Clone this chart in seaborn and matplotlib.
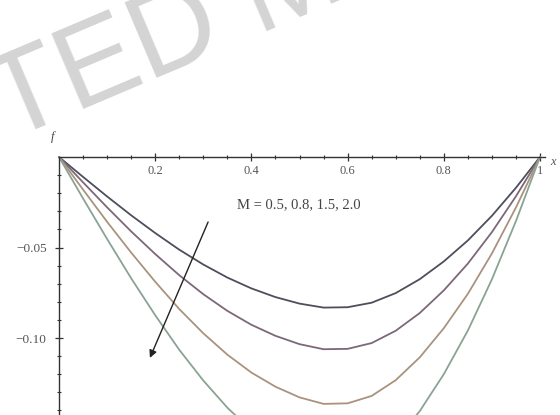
import matplotlib
matplotlib.use("Agg")
import matplotlib.pyplot as plt
import seaborn as sns
import pandas as pd

# Profiles across the channel for increasing Hartmann number M
x_vals = [0.00, 0.05, 0.10, 0.15, 0.20, 0.25, 0.30, 0.35, 0.40, 0.45, 0.50,
          0.55, 0.60, 0.65, 0.70, 0.75, 0.80, 0.85, 0.90, 0.95, 1.00]
f_m05 = [0, -0.0110, -0.0218, -0.0322, -0.0420, -0.0512, -0.0594, -0.0666, -0.0726, -0.0774, -0.0810,
         -0.0832, -0.0830, -0.0805, -0.0752, -0.0675, -0.0577, -0.0461, -0.0325, -0.0170, 0]
f_m08 = [0, -0.0140, -0.0278, -0.0411, -0.0536, -0.0653, -0.0758, -0.0850, -0.0927, -0.0988, -0.1034,
         -0.1062, -0.1060, -0.1028, -0.0960, -0.0862, -0.0737, -0.0589, -0.0415, -0.0217, 0]
f_m15 = [0, -0.0180, -0.0358, -0.0528, -0.0689, -0.0840, -0.0974, -0.1092, -0.1191, -0.1269, -0.1328,
         -0.1364, -0.1361, -0.1320, -0.1233, -0.1107, -0.0946, -0.0756, -0.0533, -0.0279, 0]
f_m20 = [0, -0.0229, -0.0453, -0.0670, -0.0874, -0.1065, -0.1235, -0.1385, -0.1510, -0.1610, -0.1685,
         -0.1731, -0.1727, -0.1675, -0.1564, -0.1404, -0.1200, -0.0959, -0.0676, -0.0354, 0]
m_labels = ["0.5", "0.8", "1.5", "2.0"]

x_ticks = [0.2, 0.4, 0.6, 0.8, 1.0]
x_ticklabels = ["0.2", "0.4", "0.6", "0.8", "1"]
y_ticks = [-0.05, -0.10]
y_ticklabels = ["\u22120.05", "\u22120.10"]

frames = []
for lab, ys in zip(m_labels, [f_m05, f_m08, f_m15, f_m20]):
    frames.append(pd.DataFrame({"x": x_vals, "f": ys, "M": lab}))
df = pd.concat(frames, ignore_index=True)

sns.set_style("white")
plt.rcParams["font.family"] = ["Liberation Serif", "DejaVu Serif"]

W, H = 560, 415
fig = plt.figure(figsize=(W / 100, H / 100), dpi=100)
fig.patch.set_facecolor("white")

# faint diagonal watermark behind the plot
fig.text(-371 / W, 1 - 302 / H, "ACCEPTED MANUSCRIPT", rotation=23,
         rotation_mode="anchor", ha="left", va="baseline",
         fontsize=86, color="#d4d4d4", family="Liberation Sans", zorder=-10)

ax = fig.add_axes([20 / W, 0, 540 / W, (H - 120) / H])
ax.patch.set_alpha(0)

palette = ["#4e4e5c", "#7c6878", "#a9937f", "#8aa393"]
sns.lineplot(data=df, x="x", y="f", hue="M", palette=palette, ax=ax,
             legend=False, linewidth=1.3, sort=False)

ax.set_xlim((20 - 59) / 481, (560 - 59) / 481)
ax.set_ylim(-(415 - 157) / 1810, -(120 - 157) / 1810)

# axes through the origin
for s in ["top", "right"]:
    ax.spines[s].set_visible(False)
ax.spines["left"].set_position(("data", 0))
ax.spines["bottom"].set_position(("data", 0))
ax.spines["bottom"].set_bounds(0, 1.01)
ax.spines["left"].set_bounds(-0.2, 0)
for s in ["left", "bottom"]:
    ax.spines[s].set_color("#333333")
    ax.spines[s].set_linewidth(1.0)

ax.set_xticks(x_ticks)
ax.set_xticklabels(x_ticklabels)
ax.set_xticks([0.05 * i for i in range(1, 20) if i % 4 != 0], minor=True)
ax.set_yticks(y_ticks)
ax.set_yticklabels(y_ticklabels)
ax.set_yticks([-0.01 * i for i in range(1, 15) if i % 5 != 0], minor=True)
ax.tick_params(axis="both", which="both", bottom=True, left=True)
ax.tick_params(axis="both", which="major", direction="inout", length=6,
               width=0.9, color="#333333", labelcolor="#555555")
ax.tick_params(axis="both", which="minor", direction="inout", length=3.5,
               width=0.8, color="#333333")
ax.tick_params(axis="x", pad=3, labelsize=9)
ax.tick_params(axis="y", pad=6, labelsize=9.5)
ax.set_xlabel("")
ax.set_ylabel("")

ax.text(-0.013, 0.0080, "f", fontsize=9, style="italic", color="#444444",
        ha="center", va="bottom")
ax.text(1.026, -0.0025, "x", fontsize=9, style="italic", color="#555555",
        ha="center", va="center")

ax.text(0.37, -0.0265, "M = 0.5, 0.8, 1.5, 2.0", fontsize=10.5,
        color="#444444", ha="left", va="center")
ax.annotate("", xy=(0.189, -0.111), xytext=(0.31, -0.0359),
            arrowprops=dict(arrowstyle="-|>", color="#222222", lw=1.0,
                            mutation_scale=11, shrinkA=0, shrinkB=0))

fig.savefig("out.png", dpi=100, facecolor="white")
